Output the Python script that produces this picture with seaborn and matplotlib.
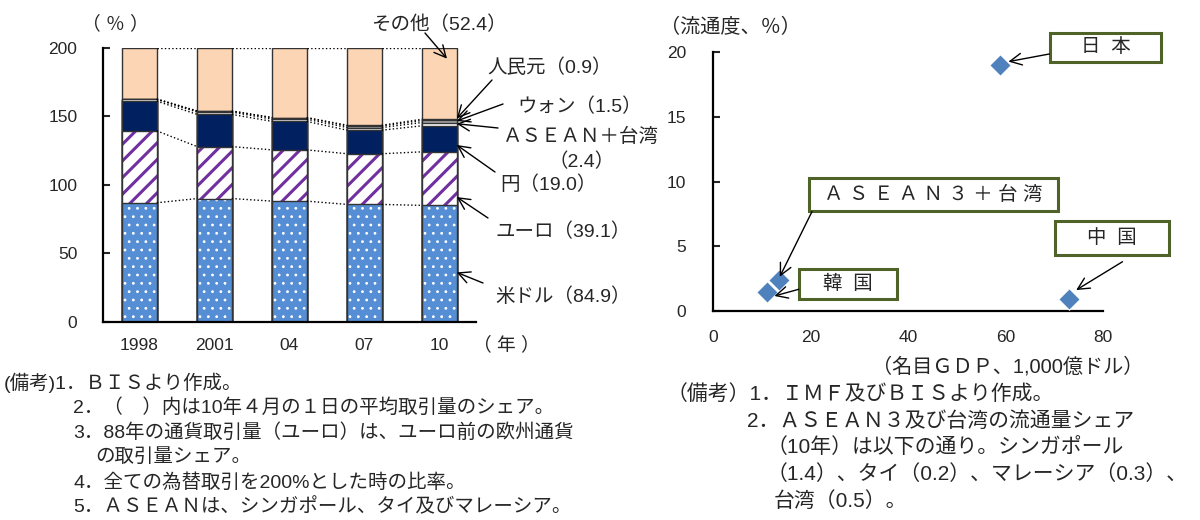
import matplotlib
matplotlib.use("Agg")
import matplotlib.pyplot as plt
import matplotlib.patches as mpatches
import seaborn as sns
import numpy as np
import pandas as pd

# --- left: currency share of FX turnover (total = 200%) ---
years = ["1998", "2001", "04", "07", "10"]
usd = [86.8, 89.9, 88.0, 85.6, 84.9]
eur = [52.5, 37.9, 37.4, 37.0, 39.1]
jpy = [21.7, 23.5, 20.8, 17.2, 19.0]
asean_tw = [1.3, 1.7, 1.6, 1.9, 2.4]
krw = [0.2, 0.8, 1.1, 1.2, 1.5]
cny = [0.0, 0.0, 0.1, 0.5, 0.9]
total = 200

# --- right: nominal GDP vs circulation share ---
countries = ["日本", "中国", "韓国", "ASEAN3+台湾"]
gdp = [58.9, 73.0, 11.1, 13.5]
circulation = [19.0, 0.9, 1.5, 2.4]

sns.set_theme(style="ticks")
plt.rcParams["font.family"] = ["Liberation Sans", "Noto Sans CJK JP"]

W, H = 1200, 520
fig = plt.figure(figsize=(12, 5.2), dpi=100)


def fpos(x, y):
    return (x / W, 1 - y / H)


def ftext(x, y, s, **kw):
    kw.setdefault("va", "center")
    kw.setdefault("fontsize", 14)
    fig.text(*fpos(x, y), s, **kw)


edge = "#333333"
df = pd.DataFrame({"year": years, "usd": usd, "eur": eur, "jpy": jpy,
                   "asean": asean_tw, "krw": krw, "cny": cny})
cum = df[["usd", "eur", "jpy", "asean", "krw", "cny"]].cumsum(axis=1)
cum["other"] = total

ax1 = fig.add_axes([103 / W, 1 - 321.7 / H, 373 / W, 274 / H])
bw = 0.46


def bars(col, **kw):
    n0 = len(ax1.patches)
    sns.barplot(x=df["year"], y=cum[col], width=bw, saturation=1,
                errorbar=None, ax=ax1, **kw)
    return ax1.patches[n0:]


# draw cumulative totals from the top layer down
bars("other", color="#FCD5B5", edgecolor=edge, linewidth=1.0)
bars("cny", color="#C4CDB0", edgecolor=edge, linewidth=1.0)
bars("krw", color="#A6A6A6", edgecolor=edge, linewidth=1.0)
bars("asean", color="white", edgecolor=edge, linewidth=1.0)
bars("jpy", color="#002060", edgecolor=edge, linewidth=1.0)
ps = bars("eur", color="white", edgecolor="#7030A0", linewidth=0, hatch="//")
for p in ps:
    if hasattr(p, "set_hatch_linewidth"):
        p.set_hatch_linewidth(2.2)
bars("eur", color=edge, fill=False, linewidth=1.0)
ps = bars("usd", color="#558ED5", edgecolor="white", linewidth=0, hatch="..")
for p in ps:
    if hasattr(p, "set_hatch_linewidth"):
        p.set_hatch_linewidth(0.8)
bars("usd", color=edge, fill=False, linewidth=1.0)

# dotted connectors between bar tops
for col in cum.columns:
    v = cum[col].values
    for i in range(len(years) - 1):
        ax1.plot([i + bw / 2, i + 1 - bw / 2], [v[i], v[i + 1]],
                 ls=":", color="black", lw=1.0, zorder=1)

ax1.set_xlim(-0.487, 4.487)
ax1.set_ylim(0, 200)
ax1.set_yticks(range(0, 201, 50))
ax1.set_xlabel("")
ax1.set_ylabel("")
ax1.tick_params(axis="y", direction="in", length=5, width=1.5, pad=18.5, labelsize=12.5)
ax1.tick_params(axis="x", length=0, pad=11.5, labelsize=12.5)
for s in ["top", "right"]:
    ax1.spines[s].set_visible(False)
for s in ["left", "bottom"]:
    ax1.spines[s].set_linewidth(1.6)
    ax1.spines[s].set_color("black")

ftext(82, 24, "（ ％ ）", fontsize=13.5)
ftext(473, 345, "（ 年 ）", fontsize=13.5)

arrow = dict(arrowstyle="->,head_length=0.7,head_width=0.35", color="black",
             lw=1.0, shrinkA=0, shrinkB=0)
left_labels = [
    ("その他（52.4）", (507, 25), "right", (4.1, 192), (425, 33)),
    ("人民元（0.9）", (487, 68), "left", (4.23, 148.3), (492, 80)),
    ("ウォン（1.5）", (517, 107), "left", (4.23, 146.5), (503, 104)),
    ("ＡＳＥＡＮ＋台湾", (503, 137), "left", (4.23, 144.5), (498, 128)),
    ("円（19.0）", (500, 185), "left", (4.23, 129), (495, 172)),
    ("ユーロ（39.1）", (495, 232), "left", (4.23, 91), (488, 218)),
    ("米ドル（84.9）", (495, 297), "left", (4.23, 36), (483, 283)),
]
for s, (tx, ty), ha, xy, tail in left_labels:
    ftext(tx, ty, s, ha=ha)
    ax1.annotate("", xy=xy, xytext=fpos(*tail), textcoords="figure fraction",
                 arrowprops=arrow, annotation_clip=False)
ftext(582, 162, "（2.4）", ha="center")

notes_l = [
    (4, "(備考)1．ＢＩＳより作成。"),
    (73, "2．（　）内は10年４月の１日の平均取引量のシェア。"),
    (73, "3．88年の通貨取引量（ユーロ）は、ユーロ前の欧州通貨"),
    (95, "の取引量シェア。"),
    (73, "4．全ての為替取引を200%とした時の比率。"),
    (73, "5．ＡＳＥＡＮは、シンガポール、タイ及びマレーシア。"),
]
for i, (x, s) in enumerate(notes_l):
    ftext(x, 383 + 24.8 * i, s)

# --- right chart ---
ax2 = fig.add_axes([713 / W, 1 - 311 / H, 390 / W, 258.7 / H])
sns.scatterplot(x=gdp, y=circulation, marker="D", s=120, color="#4F81BD",
                edgecolor="white", linewidth=0.8, ax=ax2, zorder=3, clip_on=False)
ax2.set_xlim(0, 80)
ax2.set_ylim(0, 20)
ax2.set_xticks(range(0, 81, 20))
ax2.set_yticks(range(0, 21, 5))
ax2.tick_params(axis="y", direction="in", length=5, width=1.5, pad=19.5, labelsize=12.5)
ax2.tick_params(axis="x", length=0, pad=14, labelsize=12.5)
for s in ["top", "right"]:
    ax2.spines[s].set_visible(False)
for s in ["left", "bottom"]:
    ax2.spines[s].set_linewidth(1.6)
    ax2.spines[s].set_color("black")

boxes = [
    ("日  本", (69.2, 19.25, 22.6, 2.25), (69.0, 19.87), (60.6, 19.28)),
    ("Ａ Ｓ Ｅ Ａ Ｎ ３ ＋ 台 湾", (19.6, 7.73, 51.2, 2.53), (20.3, 7.68), (13.7, 2.65)),
    ("中  国", (70.1, 4.33, 23.4, 2.63), (84.0, 3.81), (74.5, 1.62)),
    ("韓  国", (17.6, 0.9, 20.1, 2.32), (17.6, 1.68), (12.6, 1.16)),
]
for s, (bx, by, bwid, bh), tail, head in boxes:
    ax2.add_patch(mpatches.Rectangle((bx, by), bwid, bh, facecolor="white",
                                     edgecolor="#4F6228", lw=2.2, clip_on=False, zorder=4))
    ax2.text(bx + bwid / 2, by + bh / 2, s, ha="center", va="center",
             fontsize=14, zorder=5, clip_on=False)
    ax2.annotate("", xy=head, xytext=tail, arrowprops=arrow, annotation_clip=False, zorder=4)

ftext(660, 27, "（流通度、％）", fontsize=14.5)
ftext(1008, 367, "（名目ＧＤＰ、1,000億ドル）", ha="center", fontsize=14.5)

notes_r = [
    (667, "（備考）1．ＩＭＦ及びＢＩＳより作成。"),
    (747, "2．ＡＳＥＡＮ３及び台湾の流通量シェア"),
    (767, "（10年）は以下の通り。シンガポール"),
    (767, "（1.4）、タイ（0.2）、マレーシア（0.3）、"),
    (774, "台湾（0.5）。"),
]
for i, (x, s) in enumerate(notes_r):
    ftext(x, 394 + 26.7 * i, s, fontsize=15)

fig.savefig("out.png", dpi=100)
